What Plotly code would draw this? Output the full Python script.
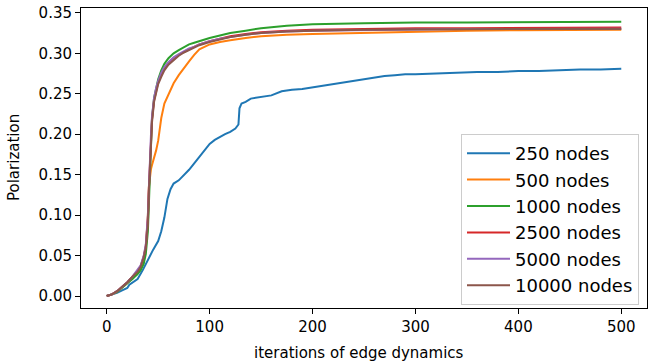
import plotly.graph_objects as go

# ---- data ----
iters_250 = [0, 5, 10, 15, 20, 22, 25, 30, 35, 40, 45, 50, 53, 56, 59, 62, 65, 70, 75, 80,
             85, 90, 95, 100, 105, 110, 115, 120, 125, 128, 129, 131, 135, 140, 150, 160,
             170, 180, 190, 200, 210, 220, 230, 240, 250, 260, 270, 280, 290, 300, 320,
             340, 360, 380, 400, 420, 440, 460, 480, 500]
pol_250 = [0, 0.002, 0.004, 0.007, 0.010, 0.014, 0.017, 0.021, 0.032, 0.045, 0.057, 0.068,
           0.080, 0.097, 0.120, 0.132, 0.139, 0.143, 0.149, 0.156, 0.164, 0.172, 0.180,
           0.188, 0.193, 0.197, 0.200, 0.203, 0.207, 0.212, 0.232, 0.238, 0.240, 0.244,
           0.246, 0.248, 0.253, 0.255, 0.256, 0.258, 0.260, 0.262, 0.264, 0.266, 0.268,
           0.270, 0.272, 0.273, 0.274, 0.274, 0.275, 0.276, 0.277, 0.277, 0.278, 0.278,
           0.279, 0.280, 0.280, 0.281]

iters = [0, 5, 10, 15, 20, 25, 30, 33, 36, 38, 40, 41, 42, 43, 44, 46, 48, 50, 53, 56, 60,
         65, 70, 75, 80, 85, 90, 100, 110, 120, 135, 150, 175, 200, 250, 300, 350, 400,
         450, 500]
pol_500 = [0, 0.002, 0.005, 0.010, 0.016, 0.022, 0.029, 0.035, 0.046, 0.060, 0.100, 0.135,
           0.150, 0.157, 0.162, 0.170, 0.180, 0.192, 0.220, 0.238, 0.250, 0.263, 0.273,
           0.282, 0.290, 0.298, 0.305, 0.311, 0.314, 0.316, 0.319, 0.321, 0.323, 0.324,
           0.3255, 0.327, 0.328, 0.3285, 0.329, 0.329]
pol_1000 = [0, 0.002, 0.005, 0.010, 0.015, 0.021, 0.027, 0.032, 0.040, 0.052, 0.080, 0.120,
            0.160, 0.195, 0.220, 0.245, 0.258, 0.268, 0.279, 0.287, 0.294, 0.300, 0.304,
            0.308, 0.311, 0.313, 0.315, 0.319, 0.322, 0.325, 0.328, 0.331, 0.334, 0.336,
            0.337, 0.338, 0.338, 0.3385, 0.339, 0.339]
pol_2500 = [0, 0.002, 0.006, 0.011, 0.017, 0.024, 0.031, 0.037, 0.049, 0.062, 0.095, 0.135,
            0.165, 0.195, 0.218, 0.242, 0.255, 0.264, 0.274, 0.281, 0.288, 0.294, 0.298,
            0.302, 0.305, 0.308, 0.311, 0.315, 0.318, 0.321, 0.324, 0.326, 0.328, 0.329,
            0.330, 0.331, 0.331, 0.3315, 0.3315, 0.332]
pol_5000 = [0, 0.002, 0.006, 0.011, 0.017, 0.024, 0.032, 0.038, 0.050, 0.064, 0.100, 0.140,
            0.170, 0.200, 0.222, 0.245, 0.257, 0.266, 0.276, 0.283, 0.289, 0.295, 0.299,
            0.303, 0.306, 0.308, 0.311, 0.315, 0.318, 0.320, 0.323, 0.325, 0.327, 0.328,
            0.329, 0.3295, 0.330, 0.330, 0.3305, 0.3305]
pol_10000 = [0, 0.002, 0.006, 0.011, 0.017, 0.024, 0.030, 0.036, 0.048, 0.060, 0.090, 0.130,
             0.160, 0.190, 0.215, 0.240, 0.253, 0.262, 0.271, 0.279, 0.286, 0.292, 0.297,
             0.301, 0.304, 0.307, 0.310, 0.314, 0.317, 0.320, 0.323, 0.325, 0.327, 0.328,
             0.329, 0.3295, 0.330, 0.330, 0.330, 0.330]

labels = ["250 nodes", "500 nodes", "1000 nodes", "2500 nodes", "5000 nodes", "10000 nodes"]
colors = ["#1f77b4", "#ff7f0e", "#2ca02c", "#d62728", "#9467bd", "#8c564b"]
xs = [iters_250, iters, iters, iters, iters, iters]
ys = [pol_250, pol_500, pol_1000, pol_2500, pol_5000, pol_10000]

x_ticks = [0, 100, 200, 300, 400, 500]
y_ticks = [0.00, 0.05, 0.10, 0.15, 0.20, 0.25, 0.30, 0.35]

FONT = "DejaVu Sans"

fig = go.Figure()
for x, y, name, c in zip(xs, ys, labels, colors):
    fig.add_trace(go.Scatter(x=x, y=y, mode="lines", name=name,
                             line=dict(color=c, width=2)))

W, H = 648, 362
L, R, T, B = 81, 1, 8, 54
pw, ph = W - L - R, H - T - B

axis_common = dict(showline=True, mirror=True, linecolor="black", linewidth=1,
                   ticks="outside", ticklen=5, tickwidth=1, tickcolor="black",
                   showgrid=False, zeroline=False, automargin=False,
                   tickfont=dict(family=FONT, size=15, color="black"))

fig.update_layout(
    width=W, height=H,
    margin=dict(l=L, r=R, t=T, b=B, pad=0, autoexpand=False),
    plot_bgcolor="white", paper_bgcolor="white",
    xaxis=dict(range=[-25, 525], tickvals=x_ticks, **axis_common),
    yaxis=dict(range=[-0.0148, 0.356], tickvals=y_ticks, tickformat=".2f", **axis_common),
    showlegend=True,
    legend=dict(x=(639 - L) / pw, y=(308 - 305) / ph, xanchor="right", yanchor="bottom",
                bgcolor="rgba(255,255,255,0.8)", bordercolor="#cccccc", borderwidth=1,
                itemwidth=43,
                font=dict(family=FONT, size=18, color="black")),
    annotations=[
        dict(text="iterations of edge dynamics", xref="paper", yref="paper",
             x=(359 - L) / pw, y=(308 - 353) / ph, xanchor="center", yanchor="middle",
             showarrow=False, font=dict(family=FONT, size=15, color="black")),
        dict(text="Polarization", xref="paper", yref="paper",
             x=(14 - L) / pw, y=0.5, xanchor="center", yanchor="middle", textangle=-90,
             showarrow=False, font=dict(family=FONT, size=15, color="black")),
    ],
)

# remove the browser's default 8px body margin so the figure sits at the page corner
fig.write_html("out.html", config={"displayModeBar": False},
               post_script="document.body.style.margin='0';")
